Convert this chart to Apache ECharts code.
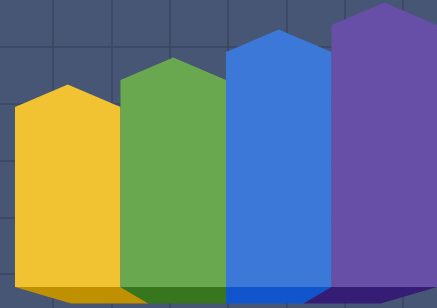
<!DOCTYPE html>
<html>
<head>
<meta charset="utf-8">
<script src="https://cdn.jsdelivr.net/npm/echarts@6/dist/echarts.min.js"></script>
<style>
html,body{margin:0;padding:0;background:#475675;}
#chart{width:437px;height:308px;}
</style>
</head>
<body>
<div id="chart"></div>
<script>
var categories = ['A', 'B', 'C', 'D'];
var values = [62.7, 72.1, 81.9, 91.3];
var faceColors = ['#f1c232', '#6aa84f', '#3c78d8', '#674ea7'];
var baseColors = ['#bf9000', '#38761d', '#1155cc', '#351c75'];

var chart = echarts.init(document.getElementById('chart'));

function renderItem(params, api) {
  var idx = api.value(0);
  var val = api.value(1);
  var top = api.coord([idx, val]);
  var zero = api.coord([idx, 0]);
  var bw = api.size([1, 0])[0];
  var cx = top[0];
  var l = cx - bw / 2, r = cx + bw / 2;
  var ys = top[1], y0 = zero[1];
  var rise = bw * 0.213;
  var cs = params.coordSys;
  var vx = cs.x + cs.width / 2;
  var depth = 16.5;
  var f = 1 - depth / 62;
  return {
    type: 'group',
    children: [
      {
        type: 'polygon',
        shape: { points: [[l, y0], [l, ys], [cx, ys - rise], [r, ys], [r, y0]] },
        style: { fill: faceColors[idx] }
      },
      {
        type: 'polygon',
        shape: { points: [[l, y0], [r, y0], [vx + (r - vx) * f, y0 + depth], [vx + (l - vx) * f, y0 + depth]] },
        style: { fill: baseColors[idx] }
      }
    ]
  };
}

var gridLine = { show: true, lineStyle: { color: '#3a4661', width: 1.5 } };

var option = {
  backgroundColor: '#475675',
  animation: false,
  grid: [
    { left: 15, right: 0, top: 0, bottom: 21, outerBoundsMode: 'none' },
    { left: -5.3, right: -24.3, top: -9.75, bottom: -22.75, outerBoundsMode: 'none' }
  ],
  xAxis: [
    { type: 'category', data: categories, gridIndex: 0, show: false, boundaryGap: true },
    { type: 'value', gridIndex: 1, min: 0, max: 8, interval: 1,
      axisLine: { show: false }, axisTick: { show: false }, axisLabel: { show: false },
      splitLine: gridLine }
  ],
  yAxis: [
    { type: 'value', gridIndex: 0, min: 0, max: 100, show: false, splitLine: { show: false } },
    { type: 'value', gridIndex: 1, min: 0, max: 6, interval: 1,
      axisLine: { show: false }, axisTick: { show: false }, axisLabel: { show: false },
      splitLine: gridLine }
  ],
  series: [
    {
      type: 'custom',
      xAxisIndex: 0,
      yAxisIndex: 0,
      renderItem: renderItem,
      clip: false,
      z: 10,
      data: categories.map(function (c, i) { return [i, values[i]]; })
    }
  ]
};
chart.setOption(option);
</script>
</body>
</html>
